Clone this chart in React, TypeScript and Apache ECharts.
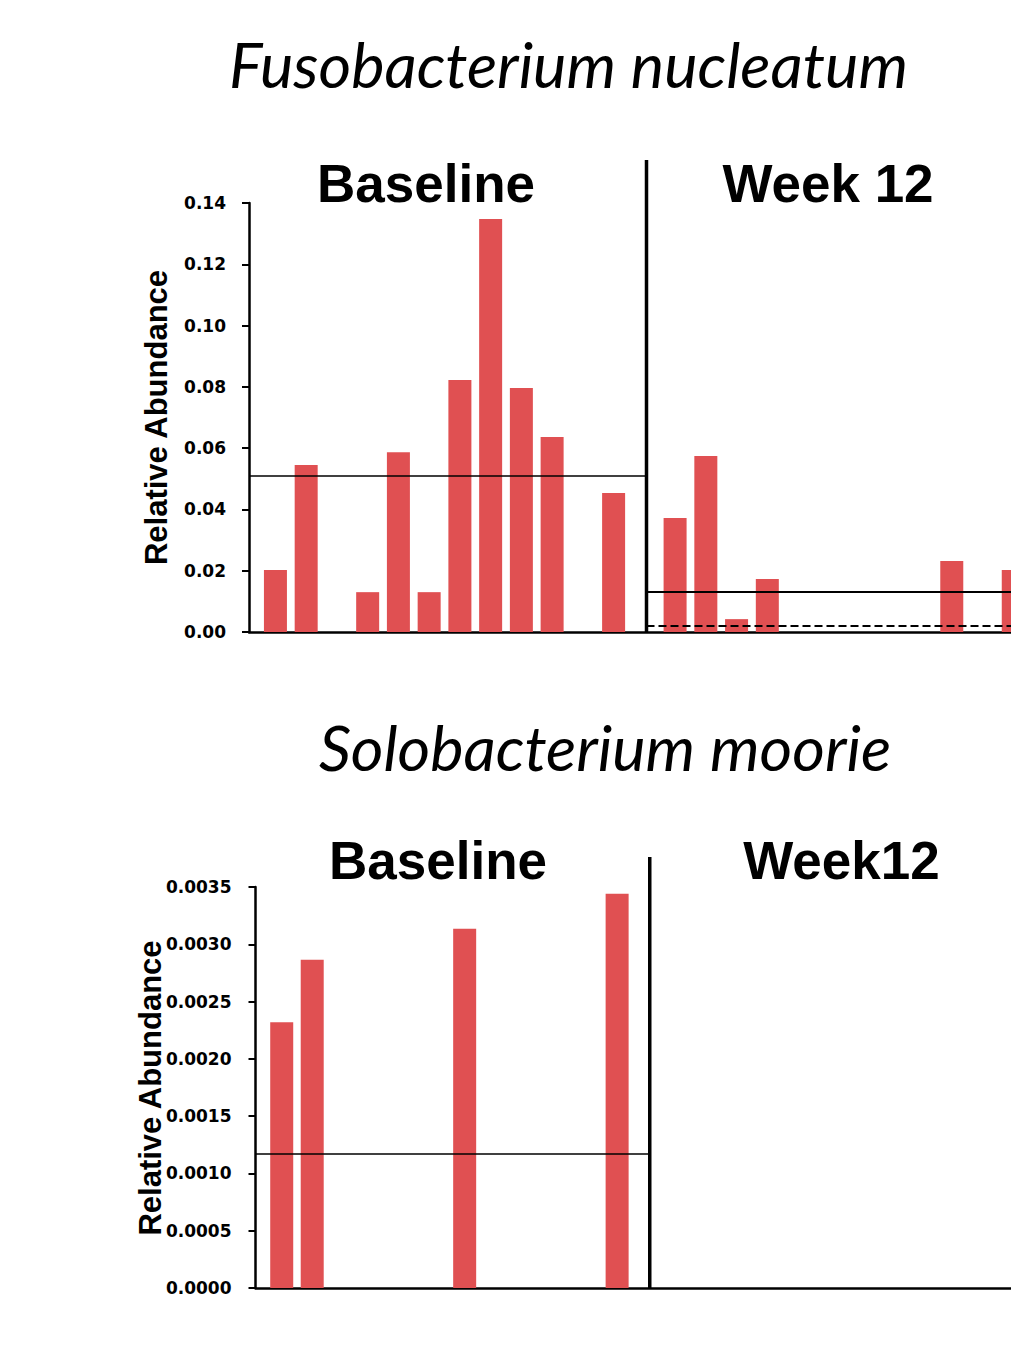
import React, { useEffect, useRef } from "react";
import * as echarts from "echarts";

// ---- Texts ----
const FUSO_TITLE = "Fusobacterium nucleatum";
const SOLO_TITLE = "Solobacterium moorie";
const FUSO_PERIODS = ["Baseline", "Week 12"];
const SOLO_PERIODS = ["Baseline", "Week12"];
const Y_NAME = "Relative Abundance";

// ---- Data (one value per sample slot, null = no bar) ----
const fusoBaseline = [0.0202, 0.0545, null, 0.013, 0.0587, 0.013, 0.0822, 0.1348, 0.0796, 0.0636, null, 0.0454];
const fusoWeek12 = [0.0372, 0.0574, 0.0042, 0.0173, null, null, null, null, null, 0.0232, null, 0.0202];
const fusoBaselineMean = 0.0511;
const fusoWeek12Mean = 0.013;
const fusoWeek12Dashed = 0.0019;

const soloBaseline = [0.00232, 0.002865, null, null, null, null, 0.003136, null, null, null, null, 0.003442];
const soloWeek12: (number | null)[] = [];
const soloBaselineMean = 0.00117;

// ---- Axis ticks ----
const fusoTickLabels = ["0.00", "0.02", "0.04", "0.06", "0.08", "0.10", "0.12", "0.14"];
const fusoAxis = { min: 0, max: 0.14, interval: 0.02 };
const soloTickLabels = ["0.0000", "0.0005", "0.0010", "0.0015", "0.0020", "0.0025", "0.0030", "0.0035"];
const soloAxis = { min: 0, max: 0.0035, interval: 0.0005 };

// ---- Layout (slot positions on the x axis) ----
const WEEK12_START = 13;
const DIVIDER_SLOT = 12.07;
const X_MIN = -0.86;
const X_MAX = 25;

const BAR_COLOR = "#E05052";
const CHART_W = 1100; // wider than the page: the right side is cut off, as in the original
const PAGE_W = 1011;
const PAGE_H = 1362;

function toPoints(vals: (number | null)[], offset: number) {
  const out: [number, number][] = [];
  vals.forEach((v, i) => {
    if (v != null) out.push([i + offset, v]);
  });
  return out;
}

function yAxisOpt(gridIndex: number, axis: any, labels: string[], margin: number) {
  return {
    type: "value",
    gridIndex,
    min: axis.min,
    max: axis.max,
    interval: axis.interval,
    axisLine: { show: true, onZero: false, lineStyle: { color: "#000", width: 2.5 } },
    axisTick: { show: true, length: 7, lineStyle: { color: "#000", width: 2 } },
    axisLabel: {
      color: "#000",
      fontFamily: "DejaVu Sans",
      fontWeight: "bold",
      fontSize: 17,
      margin,
      formatter: (_v: number, i: number) => labels[i] ?? "",
    },
    splitLine: { show: false },
  };
}

function xAxisOpt(gridIndex: number) {
  return {
    type: "value",
    gridIndex,
    min: X_MIN,
    max: X_MAX,
    axisLine: { show: true, onZero: false, lineStyle: { color: "#000", width: 2.5 } },
    axisTick: { show: false },
    axisLabel: { show: false },
    splitLine: { show: false },
  };
}

const solid = (w: number) => ({ color: "#000", width: w, type: "solid" as const });

export default function App() {
  const ref = useRef<HTMLDivElement>(null);

  useEffect(() => {
    if (!ref.current) return;
    const chart = echarts.init(ref.current, null, { renderer: "svg" });

    const option: any = {
      animation: false,
      backgroundColor: "#fff",
      grid: [
        { left: 249, top: 203, width: 795, height: 429, outerBoundsMode: "none" },
        { left: 255.5, top: 887, width: 788.5, height: 401, outerBoundsMode: "none" },
      ],
      xAxis: [xAxisOpt(0), xAxisOpt(1)],
      yAxis: [
        yAxisOpt(0, fusoAxis, fusoTickLabels, 23),
        yAxisOpt(1, soloAxis, soloTickLabels, 24),
      ],
      series: [
        {
          type: "bar",
          name: "Fuso",
          xAxisIndex: 0,
          yAxisIndex: 0,
          barWidth: 23,
          itemStyle: { color: BAR_COLOR },
          emphasis: { disabled: true },
          data: [...toPoints(fusoBaseline, 0), ...toPoints(fusoWeek12, WEEK12_START)],
          markLine: {
            silent: true,
            symbol: ["none", "none"],
            label: { show: false },
            lineStyle: solid(1.6),
            data: [
              [
                { coord: [X_MIN, fusoBaselineMean], lineStyle: solid(1.6) },
                { coord: [DIVIDER_SLOT, fusoBaselineMean] },
              ],
              [
                { coord: [DIVIDER_SLOT, fusoWeek12Mean], lineStyle: solid(1.8) },
                { coord: [X_MAX, fusoWeek12Mean] },
              ],
              [
                { coord: [DIVIDER_SLOT, fusoWeek12Dashed], lineStyle: { color: "#000", width: 1.8, type: [8, 4] } },
                { coord: [X_MAX, fusoWeek12Dashed] },
              ],
            ],
          },
        },
        {
          type: "bar",
          name: "Solo",
          xAxisIndex: 1,
          yAxisIndex: 1,
          barWidth: 23,
          itemStyle: { color: BAR_COLOR },
          emphasis: { disabled: true },
          data: [...toPoints(soloBaseline, 0), ...toPoints(soloWeek12, WEEK12_START)],
          markLine: {
            silent: true,
            symbol: ["none", "none"],
            label: { show: false },
            lineStyle: solid(1.6),
            data: [
              [
                { coord: [X_MIN, soloBaselineMean], lineStyle: solid(1.6) },
                { coord: [DIVIDER_SLOT, soloBaselineMean] },
              ],
            ],
          },
        },
      ],
    };
    chart.setOption(option);

    const topDiv = chart.convertToPixel({ gridIndex: 0 } as any, [DIVIDER_SLOT, 0]) as number[];
    const botDiv = chart.convertToPixel({ gridIndex: 1 } as any, [DIVIDER_SLOT, 0]) as number[];

    const txt = (
      id: string,
      text: string,
      x: number,
      y: number,
      family: string,
      size: number,
      weight: string,
      style: string,
      rotation = 0
    ) => ({
      type: "text",
      id,
      x,
      y,
      rotation,
      silent: true,
      style: {
        text,
        fill: "#000",
        fontFamily: family,
        fontSize: size,
        fontWeight: weight,
        fontStyle: style,
        align: "center",
        verticalAlign: "middle",
        textAlign: "center",
        textVerticalAlign: "middle",
      },
    });

    chart.setOption({
      graphic: [
        txt("t1", FUSO_TITLE, 568.5, 63, "Lato", 63, "normal", "italic"),
        txt("p1", FUSO_PERIODS[0], 426, 183, "Liberation Sans", 53, "bold", "normal"),
        txt("p2", FUSO_PERIODS[1], 828, 183, "Liberation Sans", 53, "bold", "normal"),
        txt("y1", Y_NAME, 156, 417.5, "Liberation Sans", 31, "bold", "normal", Math.PI / 2),
        txt("t2", SOLO_TITLE, 605, 746, "Lato", 63, "normal", "italic"),
        txt("p3", SOLO_PERIODS[0], 438, 860, "Liberation Sans", 53, "bold", "normal"),
        txt("p4", SOLO_PERIODS[1], 841.5, 860, "Liberation Sans", 53, "bold", "normal"),
        txt("y2", Y_NAME, 150, 1088, "Liberation Sans", 31, "bold", "normal", Math.PI / 2),
        {
          type: "line",
          id: "d1",
          silent: true,
          shape: { x1: topDiv[0], y1: 160, x2: topDiv[0], y2: topDiv[1] + 1 },
          style: { stroke: "#000", lineWidth: 3.5 },
        },
        {
          type: "line",
          id: "d2",
          silent: true,
          shape: { x1: botDiv[0], y1: 857, x2: botDiv[0], y2: botDiv[1] + 1 },
          style: { stroke: "#000", lineWidth: 3.5 },
        },
      ],
    });

    return () => chart.dispose();
  }, []);

  return (
    <div
      style={{
        position: "absolute",
        left: 0,
        top: 0,
        width: PAGE_W,
        height: PAGE_H,
        overflow: "hidden",
        background: "#fff",
      }}
    >
      <div ref={ref} style={{ width: CHART_W, height: PAGE_H }} />
    </div>
  );
}
